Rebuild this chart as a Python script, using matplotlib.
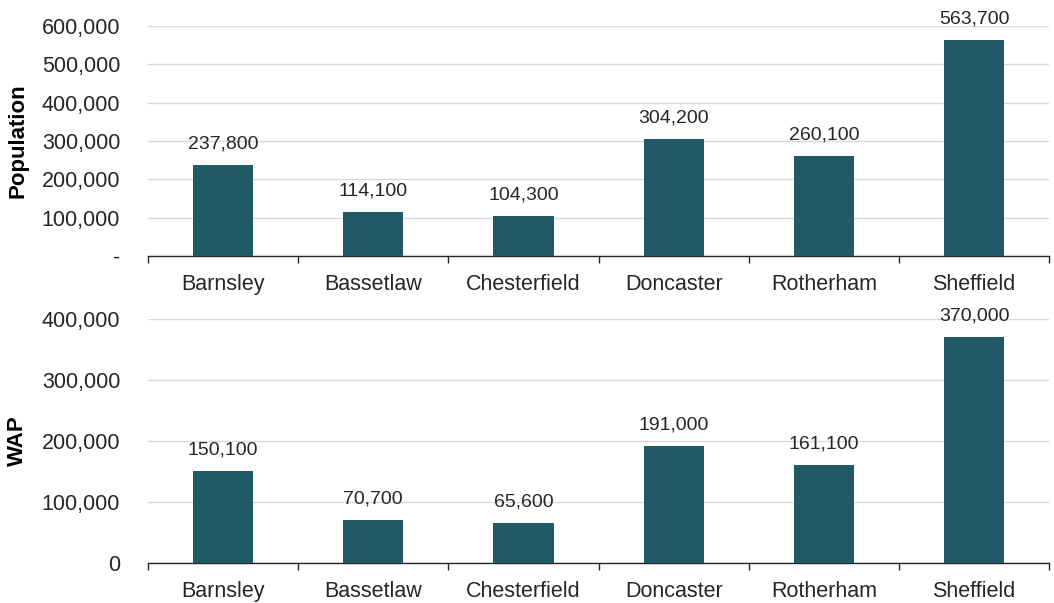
import numpy as np
import matplotlib.pyplot as plt
from matplotlib.ticker import FuncFormatter, FixedLocator

plt.rcParams['font.family'] = ['Liberation Sans', 'DejaVu Sans']

areas = ['Barnsley', 'Bassetlaw', 'Chesterfield', 'Doncaster', 'Rotherham', 'Sheffield']
population = [237800, 114100, 104300, 304200, 260100, 563700]
wap = [150100, 70700, 65600, 191000, 161100, 370000]

bar_color = '#225966'
grid_color = '#d9d9d9'
tick_fs = 15.5
label_fs = 14

fig = plt.figure(figsize=(10.54, 6.03), dpi=100)
ax1 = fig.add_axes([0.1404, 0.5755, 0.855, 0.3814])
ax2 = fig.add_axes([0.1404, 0.0663, 0.855, 0.4047])


def style(ax, values, ylim, step, label, zero_label):
    x = np.arange(len(areas))
    ax.bar(x, values, width=0.4, color=bar_color, zorder=3)
    for xi, v in zip(x, values):
        ax.annotate(f'{v:,}', (xi, v), xytext=(0, 9), textcoords='offset points',
                    ha='center', va='bottom', fontsize=label_fs, color='#262626')
    ax.set_xlim(-0.5, len(areas) - 0.5)
    ax.set_ylim(0, ylim)
    ax.set_yticks(np.arange(0, ylim + 1, step))
    ax.yaxis.set_major_formatter(FuncFormatter(
        lambda v, p: zero_label if v == 0 else f'{int(v):,}'))
    ax.set_xticks(x)
    ax.set_xticklabels(areas)
    ax.xaxis.set_minor_locator(FixedLocator(np.arange(-0.5, len(areas), 1.0)))
    ax.tick_params(axis='x', which='major', length=0, pad=13, labelsize=tick_fs, colors='#262626')
    ax.tick_params(axis='x', which='minor', length=5, width=1, color='#262626')
    ax.tick_params(axis='y', length=0, pad=20, labelsize=tick_fs, colors='#262626')
    ax.grid(axis='y', color=grid_color, linewidth=1, zorder=0)
    for s in ['top', 'right', 'left']:
        ax.spines[s].set_visible(False)
    ax.spines['bottom'].set_color('#262626')
    ax.spines['bottom'].set_linewidth(1)
    ax.set_ylabel(label, fontsize=16, fontweight='bold')


style(ax1, population, 600000, 100000, 'Population', '-')
style(ax2, wap, 400000, 100000, 'WAP', '0')
ax1.yaxis.set_label_coords(-0.133, 0.5)
ax2.yaxis.set_label_coords(-0.133, 0.5)

fig.savefig('out.png', dpi=100)
